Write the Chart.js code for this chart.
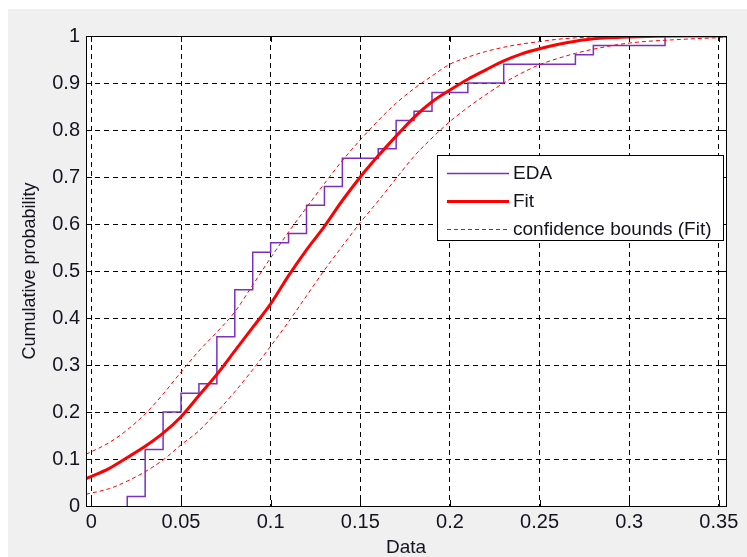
<!DOCTYPE html>
<html>
<head>
<meta charset="utf-8">
<script src="https://cdn.jsdelivr.net/npm/chart.js@4.4.1/dist/chart.umd.min.js"></script>
<style>
  html, body { margin: 0; padding: 0; background: #f0f0f0; }
</style>
</head>
<body>
<canvas id="cdfChart" width="747" height="557"></canvas>
<script>
// empirical CDF (EDA): jump locations and the cumulative value after each jump
const edaX = [0.02, 0.03, 0.04, 0.05, 0.06, 0.07, 0.08, 0.09, 0.10, 0.11, 0.12, 0.13, 0.14,
              0.16, 0.17, 0.18, 0.19, 0.21, 0.23, 0.27, 0.28, 0.32];
const edaY = [0.02, 0.12, 0.20, 0.24, 0.26, 0.36, 0.46, 0.54, 0.56, 0.58, 0.64, 0.68, 0.74,
              0.76, 0.82, 0.84, 0.88, 0.90, 0.94, 0.96, 0.98, 1.00];

// fitted CDF and its confidence bounds, read at these x positions
const fitX = [-0.003, 0.01, 0.02, 0.03, 0.04, 0.05, 0.06, 0.07, 0.08, 0.09, 0.10, 0.11, 0.12,
              0.13, 0.14, 0.15, 0.16, 0.17, 0.18, 0.19, 0.20, 0.21, 0.22, 0.23, 0.24, 0.25,
              0.26, 0.27, 0.28, 0.30, 0.33, 0.354];
const fitY = [0.058, 0.08, 0.103, 0.127, 0.155, 0.19, 0.235, 0.28, 0.33, 0.38, 0.43, 0.49, 0.545,
              0.595, 0.65, 0.70, 0.745, 0.787, 0.827, 0.86, 0.885, 0.908, 0.928, 0.947, 0.962, 0.973,
              0.982, 0.989, 0.994, 0.998, 1.0, 1.0];
const upperY = [0.11, 0.135, 0.162, 0.196, 0.238, 0.285, 0.33, 0.37, 0.413, 0.47, 0.528, 0.583, 0.635,
                0.686, 0.735, 0.779, 0.82, 0.857, 0.888, 0.915, 0.94, 0.955, 0.967, 0.976, 0.983, 0.988,
                0.993, 0.996, 0.998, 1.0, 1.0, 1.0];
const lowerY = [0.025, 0.037, 0.053, 0.073, 0.098, 0.13, 0.16, 0.2, 0.243, 0.29, 0.34, 0.392, 0.447,
                0.502, 0.553, 0.603, 0.649, 0.697, 0.744, 0.783, 0.818, 0.848, 0.875, 0.9, 0.921, 0.939,
                0.952, 0.963, 0.972, 0.985, 0.993, 0.997];

const xTicks = [0, 0.05, 0.1, 0.15, 0.2, 0.25, 0.3, 0.35];
const yTicks = [0, 0.1, 0.2, 0.3, 0.4, 0.5, 0.6, 0.7, 0.8, 0.9, 1];
const xMin = -0.003, xMax = 0.354;

const FONT = 'Arial, "Liberation Sans", sans-serif';
const TEXT = '#14141f';

const edaPoints = [{ x: edaX[0], y: 0 }].concat(edaX.map((x, i) => ({ x: x, y: edaY[i] })));
const curve = ys => fitX.map((x, i) => ({ x: x, y: ys[i] }));

// figure background + white plot box
const backdrop = {
    id: 'backdrop',
    beforeDraw(chart) {
        const { ctx, chartArea: a } = chart;
        ctx.save();
        ctx.fillStyle = '#ffffff';
        ctx.fillRect(0, 0, chart.width, chart.height);
        ctx.fillStyle = '#f0f0f0';
        ctx.fillRect(8, 9, chart.width - 8, chart.height - 9);
        ctx.fillStyle = '#ffffff';
        ctx.fillRect(a.left, a.top, a.right - a.left, a.bottom - a.top);
        ctx.restore();
    }
};

// axes box, inward ticks and the legend box
const boxAndLegend = {
    id: 'boxAndLegend',
    afterDraw(chart) {
        const { ctx, chartArea: a, scales } = chart;
        ctx.save();
        ctx.strokeStyle = '#000';
        ctx.lineWidth = 1;
        ctx.setLineDash([]);
        ctx.beginPath();
        yTicks.forEach(v => {
            const y = Math.round(scales.y.getPixelForValue(v)) + 0.5;
            ctx.moveTo(a.left, y); ctx.lineTo(a.left + 6, y);
            ctx.moveTo(a.right, y); ctx.lineTo(a.right - 6, y);
        });
        xTicks.forEach(v => {
            const x = Math.round(scales.x.getPixelForValue(v)) + 0.5;
            ctx.moveTo(x, a.bottom); ctx.lineTo(x, a.bottom - 6);
            ctx.moveTo(x, a.top); ctx.lineTo(x, a.top + 6);
        });
        ctx.stroke();
        ctx.strokeRect(Math.round(a.left) + 0.5, Math.round(a.top) + 0.5,
                       Math.round(a.right - a.left), Math.round(a.bottom - a.top));

        // legend
        const lx = 437, ly = 155, lw = 286, lh = 85;
        ctx.fillStyle = '#fff';
        ctx.fillRect(lx, ly, lw, lh);
        ctx.strokeRect(lx + 0.5, ly + 0.5, lw, lh);
        const entries = chart.data.datasets.filter(d => d.inLegend);
        entries.forEach((d, i) => {
            const y = ly + 18 + i * 28;
            ctx.save();
            ctx.strokeStyle = d.borderColor;
            ctx.lineWidth = d.borderWidth;
            ctx.setLineDash(d.borderDash || []);
            ctx.beginPath();
            ctx.moveTo(lx + 10, y + 0.5);
            ctx.lineTo(lx + 72, y + 0.5);
            ctx.stroke();
            ctx.restore();
            ctx.fillStyle = TEXT;
            ctx.font = '19px ' + FONT;
            ctx.textBaseline = 'middle';
            ctx.fillText(d.label, lx + 76, y + 1);
        });
        ctx.restore();
    }
};

const ctx = document.getElementById('cdfChart').getContext('2d');

const cdfChart = new Chart(ctx, {
    type: 'line',
    data: {
        datasets: [
            {
                label: 'EDA',
                inLegend: true,
                data: edaPoints,
                stepped: 'before',
                borderColor: '#7a30c0',
                borderWidth: 1.5,
                pointRadius: 0,
                fill: false,
                order: 3
            },
            {
                label: 'Fit',
                inLegend: true,
                data: curve(fitY),
                borderColor: '#ff0000',
                borderWidth: 3,
                pointRadius: 0,
                cubicInterpolationMode: 'monotone',
                fill: false,
                order: 2
            },
            {
                label: 'confidence bounds (Fit)',
                inLegend: true,
                data: curve(upperY),
                borderColor: '#ff0000',
                borderWidth: 1,
                borderDash: [4, 3],
                pointRadius: 0,
                cubicInterpolationMode: 'monotone',
                fill: false,
                order: 1
            },
            {
                label: 'lower bound',
                inLegend: false,
                data: curve(lowerY),
                borderColor: '#ff0000',
                borderWidth: 1,
                borderDash: [4, 3],
                pointRadius: 0,
                cubicInterpolationMode: 'monotone',
                fill: false,
                order: 1
            }
        ]
    },
    options: {
        responsive: false,
        animation: false,
        layout: { padding: { left: 0, top: 36, right: 21, bottom: 0 } },
        plugins: {
            legend: { display: false },
            tooltip: { enabled: false }
        },
        scales: {
            x: {
                type: 'linear',
                min: xMin,
                max: xMax,
                afterBuildTicks: s => { s.ticks = xTicks.map(v => ({ value: v })); },
                afterFit: s => { s.height = 51; },
                grid: { color: '#000', lineWidth: 1, drawTicks: false },
                border: { display: false, dash: [5, 4] },
                ticks: {
                    color: TEXT,
                    font: { family: FONT, size: 20 },
                    padding: 4,
                    maxRotation: 0,
                    callback: v => String(+v.toFixed(2))
                },
                title: {
                    display: true,
                    text: 'Data',
                    color: TEXT,
                    font: { family: FONT, size: 19, lineHeight: 1 },
                    padding: { top: 0, bottom: 0 }
                }
            },
            y: {
                type: 'linear',
                min: 0,
                max: 1,
                afterBuildTicks: s => { s.ticks = yTicks.map(v => ({ value: v })); },
                afterFit: s => { s.width = 86; },
                grid: { color: '#000', lineWidth: 1, drawTicks: false },
                border: { display: false, dash: [5, 4] },
                ticks: {
                    color: TEXT,
                    font: { family: FONT, size: 20 },
                    padding: 6,
                    callback: v => String(+v.toFixed(1))
                },
                title: {
                    display: true,
                    text: 'Cumulative probability',
                    color: TEXT,
                    font: { family: FONT, size: 18, lineHeight: 1 },
                    padding: { top: 21, bottom: 0 }
                }
            }
        }
    },
    plugins: [backdrop, boxAndLegend]
});
</script>
</body>
</html>
